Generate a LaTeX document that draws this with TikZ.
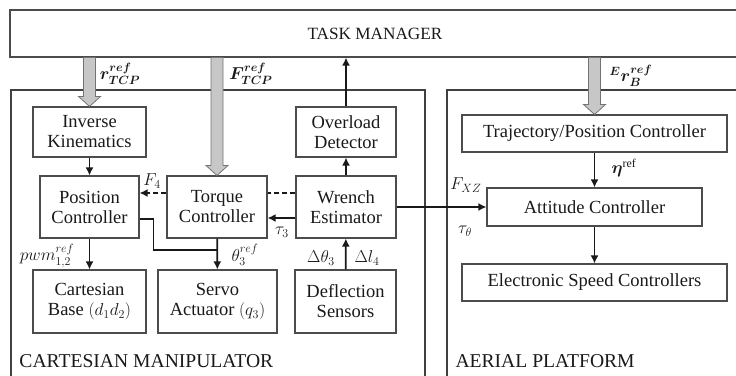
\documentclass[tikz,border=0pt]{standalone}
\usepackage{amsmath}
\usepackage{bm}
\usepackage{fontspec}
\setmainfont{Liberation Serif}
\usepackage{tikz}
\usetikzlibrary{arrows.meta,calc}

% wide grey arrow pointing down from #1 to #2
\newcommand{\fatdown}[2]{%
  \draw[fat] ($(#1)+(-6,0)$) -- ++(12,0) -- ($(#2)+(6,-10)$) -- ++(5,0)
    -- (#2) -- ++(-11,-10) -- ++(5,0) -- cycle;}

\begin{document}
\begin{tikzpicture}[x=1pt,y=-1pt,>={Latex[length=8pt,width=8pt]},line width=1pt,
  block/.style={draw=black!70,line width=1.1pt,align=center,inner sep=0pt,text=black!90,
    font=\fontsize{18.5}{20}\selectfont},
  frame/.style={draw=black!75,line width=1.1pt},
  fat/.style={draw=black!55,fill=black!22,line width=0.8pt},
  sig/.style={draw=black!90,line width=1.7pt},
  fbk/.style={dash pattern=on 5pt off 3pt},
  lbl/.style={text=black!90,inner sep=0pt,font=\fontsize{17}{20}\selectfont},
  title/.style={text=black!90,inner sep=0pt,anchor=base west}]
\useasboundingbox (0,0) rectangle (736,375);

\node[block,minimum width=730,minimum height=47,font=\fontsize{17.2}{18}\selectfont]
  (tm) at (375,33.5) {TASK MANAGER};

% subsystem frames
\draw[frame] (11,90) rectangle (425,380);
\draw[frame] (447,90) rectangle (740,380);
\node[title,font=\fontsize{19.6}{20}\selectfont] (cml) at (19,367) {CARTESIAN MANIPULATOR};
\node[title,font=\fontsize{19.6}{20}\selectfont] (apl) at (455,367) {AERIAL PLATFORM};

% manipulator blocks
\node[block,minimum width=113,minimum height=50] (ik) at (89.5,132) {Inverse\\Kinematics};
\node[block,minimum width=100,minimum height=50] (od) at (346,132) {Overload\\Detector};
\node[block,minimum width=99,minimum height=62] (pc) at (89.5,207) {Position\\Controller};
\node[block,minimum width=100,minimum height=62] (tc) at (217,207) {Torque\\Controller};
\node[block,minimum width=100,minimum height=62] (we) at (346,207) {Wrench\\Estimator};
\node[block,minimum width=113,minimum height=63] (cb) at (89.5,301.5) {Cartesian\\Base $(d_1d_2)$};
\node[block,minimum width=119,minimum height=63] (sa) at (217.5,301.5) {Servo\\Actuator $(q_3)$};
\node[block,minimum width=101,minimum height=63] (ds) at (345.5,301.5) {Deflection\\Sensors};

% platform blocks
\node[block,minimum width=265,minimum height=37] (tp) at (594.5,133.5) {Trajectory/Position Controller};
\node[block,minimum width=215,minimum height=38] (ac) at (594.5,207) {Attitude Controller};
\node[block,minimum width=265,minimum height=37] (esc) at (594.5,282.5) {Electronic Speed Controllers};

% references from the task manager
\fatdown{tm.south -| ik.north}{ik.north}
\fatdown{tm.south -| tc.north}{tc.north}
\fatdown{tm.south -| tp.north}{tp.north}
\node[lbl] (rref) at (120,74) {$\bm{r}^{\bm{ref}}_{\bm{TCP}}$};
\node[lbl] (fref) at (251,74) {$\bm{F}^{\bm{ref}}_{\bm{TCP}}$};
\node[lbl] (eref) at (631,76) {${}^{\bm{E}}\bm{r}^{\bm{ref}}_{\bm{B}}$};

% signal flow
\draw[sig,->] (ik) -- (pc);
\draw[sig,->] (od.north) -- (tm.south -| od.north);
\draw[sig,->] (we) -- (od);
\draw[sig,fbk] ([yshift=14pt]we.west) -- ([yshift=14pt]tc.east);
\draw[sig,fbk,->] ([yshift=14pt]tc.west) -- ([yshift=14pt]pc.east);
\draw[sig,->] ([yshift=-11pt]we.west) -- ([yshift=-11pt]tc.east);
\draw[sig,->] (pc) -- (cb);
\coordinate (j) at ($(tc.south)!0.375!(sa.north)$);
\draw[sig] ([yshift=-12pt]pc.east) -- ++(14,0) |- (j);
\draw[sig,->] (tc) -- (sa);
\draw[sig,->] (ds) -- (we);
\draw[sig,->] (we) -- (ac);
\draw[sig,->] (tp) -- (ac);
\draw[sig,->] (ac) -- (esc);

\node[lbl] (f4) at (152,181) {$F_4$};
\node[lbl] (tau3) at (282,232) {$\tau_3$};
\node[lbl] (pwm) at (47,256) {$pwm^{ref}_{1,2}$};
\node[lbl] (th3) at (245,255) {$\theta^{ref}_3$};
\node[lbl] (dth) at (321,258) {$\Delta\theta_3$};
\node[lbl] (dl) at (367,258) {$\Delta l_4$};
\node[lbl] (fxz) at (466,185) {$F_{XZ}$};
\node[lbl] (tauth) at (465,231) {$\tau_\theta$};
\node[lbl] (eta) at (624,168) {$\bm{\eta}^{\mathrm{ref}}$};
\end{tikzpicture}
\end{document}
